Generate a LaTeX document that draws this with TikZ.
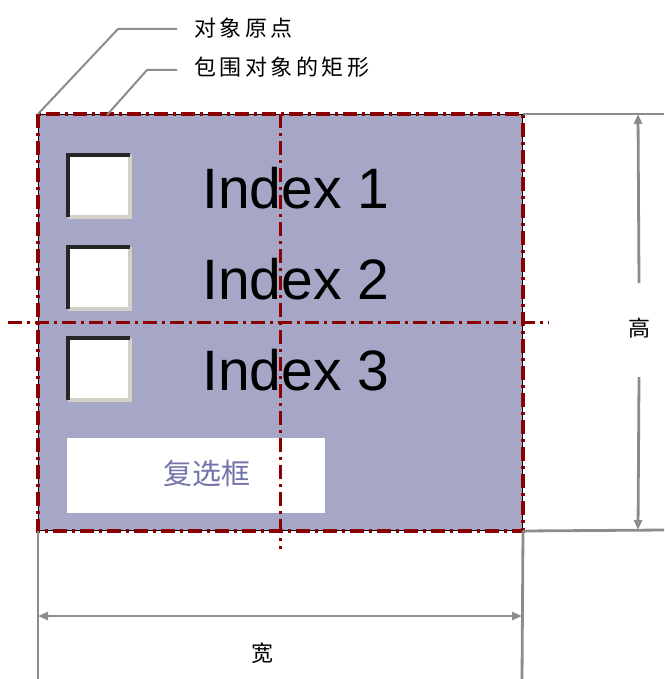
\documentclass[tikz,border=0pt]{standalone}
\usepackage{fontspec}
\setmainfont{Liberation Sans}
\newfontfamily\cjk{Noto Sans CJK SC}
\newfontfamily\cjksp[LetterSpace=16]{Noto Sans CJK SC}
\usetikzlibrary{arrows.meta}
\definecolor{fillpurple}{HTML}{A6A6C6}
\definecolor{axisred}{HTML}{8B0000}
\definecolor{dimgray}{HTML}{8C8C8C}
\definecolor{lblue}{HTML}{7474AC}
\definecolor{btnface}{HTML}{D4D0C8}
\begin{document}
\begin{tikzpicture}[x=1pt,y=-1pt,
  dashdot/.style={draw=axisred, line width=3.2pt, dash pattern=on 14pt off 5pt on 3pt off 5pt},
  dimline/.style={draw=dimgray, line width=2.8pt},
  leader/.style={draw=dimgray, line width=2pt},
  dimtip/.style={dimline, -{Triangle[length=10pt,width=8pt]}},
  dimarrow/.style={dimline, {Triangle[length=10pt,width=8pt]}-{Triangle[length=10pt,width=8pt]}},
  cjklabel/.style={font=\cjksp\fontsize{22}{22}\selectfont, text=black, inner sep=0pt},
  idx/.style={font=\fontsize{57}{57}\selectfont, inner sep=0pt, anchor=base west},
  chk/.style={fill=white, minimum width=58pt, minimum height=58pt, inner sep=0pt}
]
\useasboundingbox (0,0) rectangle (664,679);
% object rectangle
\node[draw=black, line width=1pt, fill=fillpurple, minimum width=484pt, minimum height=416pt,
      inner sep=0pt, anchor=north west] (obj) at (38,114) {};
% label box
\node[fill=white, minimum width=258pt, minimum height=75pt, inner sep=0pt, anchor=north west] (lbox) at (67,438) {};
\node[font=\cjk\fontsize{29}{29}\selectfont, text=lblue, inner sep=0pt] (ltext) at (207,473) {复选框};
% checkboxes
\foreach \n/\yy in {1/186, 2/278, 3/369}{
  \node[chk] (c\n) at (99,\yy) {};
  \draw[btnface, line width=4pt] ([shift={(-2pt,-2pt)}]c\n.south west) -- ([shift={(2pt,-2pt)}]c\n.south east) -- ([shift={(2pt,2pt)}]c\n.north east);
  \draw[black!85, line width=4pt] ([shift={(-2pt,-2pt)}]c\n.south west) -- ([shift={(-2pt,2pt)}]c\n.north west) -- ([shift={(2pt,2pt)}]c\n.north east);
}
% index texts
\node[idx] (i1) at (202,208) {Index 1};
\node[idx] (i2) at (202,299) {Index 2};
\node[idx] (i3) at (202,390) {Index 3};
% red outline and centre lines
\draw[dashdot] (obj.north west) rectangle (obj.south east);
\draw[dashdot] (obj.north) -- ([yshift=-18pt]obj.south);
\draw[dashdot] ([xshift=-30pt]obj.west) -- ([xshift=26pt]obj.east);
% leaders
\node[cjklabel, anchor=west] (lab1) at (194,28) {对象原点};
\node[cjklabel, anchor=west] (lab2) at (194,67) {包围对象的矩形};
\coordinate (k1) at (118,29);
\coordinate (k2) at (147,70);
\coordinate (rp) at (107,115);
\draw[leader] ([xshift=-17pt,yshift=-1pt]lab1.west) -- (k1) -- (obj.north west);
\draw[leader] ([xshift=-17pt,yshift=-3pt]lab2.west) -- (k2) -- (rp);
% extension lines
\coordinate (er1) at (664,114);
\coordinate (er2) at (664,530);
\coordinate (eb1) at (38,679);
\coordinate (eb2) at (522,679);
\draw[dimline] (obj.north east) -- (er1);
\draw[dimline] (obj.south east) -- (er2);
\draw[dimline] (obj.south west) -- (eb1);
\draw[dimline] (obj.south east) -- (eb2);
% height dimension
\node[font=\cjk\fontsize{22}{22}\selectfont, inner sep=0pt] (hlab) at (639,328) {高};
\coordinate (h1) at (638,114);
\coordinate (h2) at (638,530);
\draw[dimtip] ([yshift=45pt]hlab.center) -- (h1);
\draw[dimtip] ([yshift=-49pt]hlab.center) -- (h2);
% width dimension
\coordinate (w1) at (38,616);
\coordinate (w2) at (522,616);
\draw[dimarrow] (w1) -- (w2);
\node[font=\cjk\fontsize{22}{22}\selectfont, inner sep=0pt] (wlab) at (262,653) {宽};
\end{tikzpicture}
\end{document}
